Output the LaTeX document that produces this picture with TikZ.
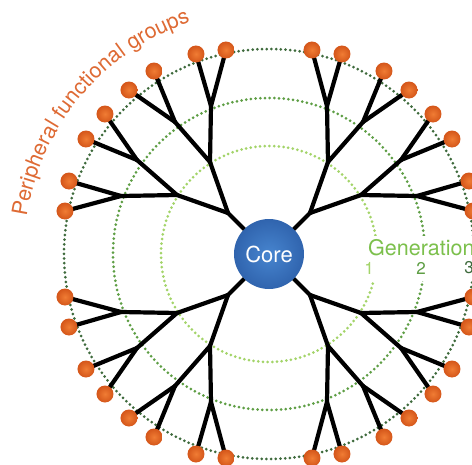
\documentclass[tikz,border=0pt]{standalone}
\usepackage{fontspec}
\setmainfont{TeX Gyre Heros}
\usetikzlibrary{decorations.text}
\pgfdeclarelayer{back}
\pgfdeclarelayer{lines}
\pgfsetlayers{back,lines,main}
\definecolor{coreIn}{HTML}{4785CF}
\definecolor{coreOut}{HTML}{3064AE}
\definecolor{leafIn}{HTML}{F07C34}
\definecolor{leafOut}{HTML}{D4561A}
\definecolor{gOne}{HTML}{A3D469}
\definecolor{gTwo}{HTML}{5E9E44}
\definecolor{gThree}{HTML}{3E6A3C}
\definecolor{genText}{HTML}{7CC04C}
\definecolor{pText}{HTML}{DE6A34}
\begin{document}
\begin{tikzpicture}[x=1pt,y=1pt,
  genring/.style={line width=3pt, line cap=round, dash pattern=on 0pt off 4.7pt},
  branch/.style={line width=4.2pt, line cap=round, line join=round, draw=black},
  leaf/.style={circle, inner sep=0pt, minimum size=17pt, inner color=leafIn, outer color=leafOut},
  corenode/.style={circle, inner sep=0pt, minimum size=70pt, inner color=coreIn, outer color=coreOut,
    text=white, font=\fontsize{22}{26}\selectfont},
  digit/.style={font=\fontsize{17}{20}\selectfont, inner sep=0pt}
]
\useasboundingbox (-269,-210) rectangle (203,254);
\clip (-269,-210) rectangle (203,254);

\node[corenode] (core) at (0,0) {Core};

\foreach \q/\sx/\sy in {ne/1/1,nw/-1/1,sw/-1/-1,se/1/-1}{
  \coordinate (\q-b0) at ({\sx*41},{\sy*41});
  \coordinate (\q-a)  at ({\sx*59},{\sy*92});
  \coordinate (\q-b)  at ({\sx*92},{\sy*59});
  \coordinate (\q-aa) at ({\sx*58},{\sy*148});
  \coordinate (\q-ab) at ({\sx*94},{\sy*132});
  \coordinate (\q-ba) at ({\sx*148},{\sy*58});
  \coordinate (\q-bb) at ({\sx*132},{\sy*94});
  \node[leaf] (\q-aa1) at ({\sx*43},{\sy*204}) {};
  \node[leaf] (\q-aa2) at ({\sx*73},{\sy*200}) {};
  \node[leaf] (\q-ab1) at ({\sx*115},{\sy*183}) {};
  \node[leaf] (\q-ab2) at ({\sx*140},{\sy*164}) {};
  \node[leaf] (\q-bb1) at ({\sx*164},{\sy*140}) {};
  \node[leaf] (\q-bb2) at ({\sx*183},{\sy*115}) {};
  \node[leaf] (\q-ba1) at ({\sx*200},{\sy*73}) {};
  \node[leaf] (\q-ba2) at ({\sx*204},{\sy*43}) {};
  \begin{pgfonlayer}{lines}
    \draw[branch] (core.center) -- (\q-b0);
    \draw[branch] (\q-b0) -- (\q-a);
    \draw[branch] (\q-b0) -- (\q-b);
    \draw[branch] (\q-a) -- (\q-aa);
    \draw[branch] (\q-a) -- (\q-ab);
    \draw[branch] (\q-b) -- (\q-ba);
    \draw[branch] (\q-b) -- (\q-bb);
    \draw[branch] (\q-aa) -- (\q-aa1.center);
    \draw[branch] (\q-aa) -- (\q-aa2.center);
    \draw[branch] (\q-ab) -- (\q-ab1.center);
    \draw[branch] (\q-ab) -- (\q-ab2.center);
    \draw[branch] (\q-bb) -- (\q-bb1.center);
    \draw[branch] (\q-bb) -- (\q-bb2.center);
    \draw[branch] (\q-ba) -- (\q-ba1.center);
    \draw[branch] (\q-ba) -- (\q-ba2.center);
  \end{pgfonlayer}
}

\begin{pgfonlayer}{back}
  \draw[genring, gOne]   (core.center) circle[radius=108];
  \draw[genring, gTwo]   (core.center) circle[radius=156];
  \draw[genring, gThree] (core.center) circle[radius=205];
  \fill[white] (93,18) rectangle (203,-27);
  \node[anchor=base west, inner sep=0pt, text=genText, font=\fontsize{21.5}{24}\selectfont] (gen) at (99,-1) {Generation};
  \node[digit, text=gOne] (d1) at (100,-14) {1};
  \node[digit, text=gTwo] (d2) at (152,-14) {2};
  \node[digit, text=gThree] (d3) at (200,-14) {3};
  \path[decorate, decoration={text along path, text align=center,
      text={|\fontsize{21.5}{22}\selectfont\color{pText}|Peripheral functional groups}}]
    (178:245) arc[start angle=178, end angle=102, radius=245];
\end{pgfonlayer}
\end{tikzpicture}
\end{document}
